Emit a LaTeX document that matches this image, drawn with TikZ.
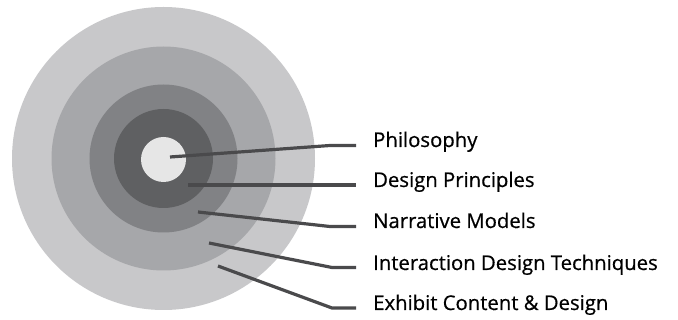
\documentclass[tikz,border=0pt]{standalone}
\usepackage{fontspec}
\setmainfont{Open Sans}
\newfontfamily\lblfont{Open Sans}[FakeBold=0.6]
\definecolor{ringA}{HTML}{C8C8CA}
\definecolor{ringB}{HTML}{A6A7AA}
\definecolor{ringC}{HTML}{818285}
\definecolor{ringD}{HTML}{5F6062}
\definecolor{ringE}{HTML}{E6E6E6}
\definecolor{leader}{HTML}{4A4A4C}
\tikzset{
  ring/.style={circle, inner sep=0pt, draw=none},
  lbl/.style={anchor=base west, inner sep=0pt, font=\lblfont\fontsize{20.3}{22}\selectfont, text=black},
  leaderline/.style={draw=leader, line width=3.2pt, line join=round},
}
\begin{document}
\begin{tikzpicture}[x=1pt,y=-1pt]
\useasboundingbox (0,0) rectangle (678,320);
\node[ring, fill=ringA, minimum size=303pt] (r1) at (163.5,158.5) {};
\node[ring, fill=ringB, minimum size=224pt] (r2) at (163.5,158.5) {};
\node[ring, fill=ringC, minimum size=148pt] (r3) at (163.5,158.5) {};
\node[ring, fill=ringD, minimum size=99pt] (r4) at (163.5,158.5) {};
\node[ring, fill=ringE, minimum size=45pt] (r5) at (163.5,159.5) {};

\node[lbl] (l1) at (373,147) {Philosophy};
\node[lbl] (l2) at (373,187) {Design Principles};
\node[lbl] (l3) at (373,228) {Narrative Models};
\node[lbl] (l4) at (373,270) {Interaction Design Techniques};
\node[lbl] (l5) at (373,310) {Exhibit Content \& Design};

\coordinate (s1) at (170,157); \coordinate (b1) at (330,145.5); \coordinate (e1) at (356,145.5);
\coordinate (s2) at (188,185); \coordinate (e2) at (356,185);
\coordinate (s3) at (198,212); \coordinate (b3) at (330,226.5); \coordinate (e3) at (356,226.5);
\coordinate (s4) at (209,243); \coordinate (b4) at (332,267.5); \coordinate (e4) at (356,267.5);
\coordinate (s5) at (218,266); \coordinate (b5) at (332,308); \coordinate (e5) at (356,308);

\draw[leaderline] (s1) -- (b1) -- (e1);
\draw[leaderline] (s2) -- (e2);
\draw[leaderline] (s3) -- (b3) -- (e3);
\draw[leaderline] (s4) -- (b4) -- (e4);
\draw[leaderline] (s5) -- (b5) -- (e5);
\end{tikzpicture}
\end{document}
